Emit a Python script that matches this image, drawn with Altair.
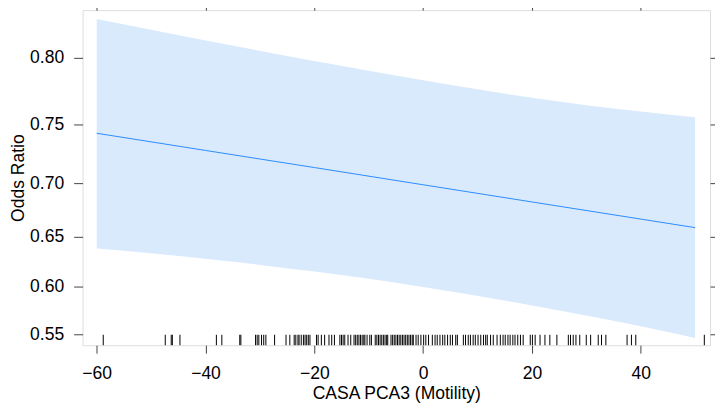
import altair as alt
import numpy as np
import pandas as pd

# Effect curve (probability scale)
fit_x = [-60, -40, -20, 0, 20, 40, 50]
fit_p = [0.7430, 0.7287, 0.7140, 0.6987, 0.6830, 0.6669, 0.6587]
lower_p = [0.6383, 0.6282, 0.6152, 0.5995, 0.5804, 0.5585, 0.5461]
upper_p = [0.8250, 0.8114, 0.7976, 0.7839, 0.7710, 0.7603, 0.7558]

# Rug of observed x values
rug_x = [-58.8, -47.4, -46.3, -46.1, -44.7, -38.0, -37.0, -33.7, -33.5, -30.8, -30.5,
         -30.2, -29.7, -29.3, -28.9, -27.3, -25.2, -24.5, -23.7, -23.4, -23.0, -22.8,
         -22.4, -22.0, -21.7, -21.4, -21.1, -20.8, -19.6, -19.3, -18.7, -18.1, -17.3,
         -16.8, -16.3, -15.3, -15.0, -14.7, -14.4, -13.8, -13.3, -12.7, -12.4, -12.1,
         -11.8, -11.5, -11.2, -10.9, -10.7, -10.3, -9.8, -9.5, -8.8, -8.5, -8.2, -7.9,
         -7.6, -7.3, -7.0, -6.7, -6.5, -5.9, -5.6, -5.3, -5.0, -4.7, -4.4, -4.1, -3.8,
         -3.5, -3.2, -2.9, -2.6, -2.3, -2.0, -1.8, -1.3, -0.9, -0.4, 0.1, 0.5, 1.0, 1.7,
         2.2, 2.6, 3.1, 3.6, 4.0, 4.5, 5.0, 5.4, 6.0, 6.3, 7.4, 7.8, 8.3, 8.7, 9.2, 9.6,
         10.1, 10.6, 11.1, 11.5, 11.8, 12.4, 12.9, 13.6, 14.2, 14.7, 15.1, 15.6, 16.0,
         16.5, 16.9, 17.4, 17.9, 18.4, 19.7, 20.1, 20.6, 21.5, 22.4, 23.3, 24.6, 26.7,
         27.1, 27.6, 28.1, 28.8, 30.0, 30.8, 32.2, 32.8, 33.6, 37.5, 38.3, 39.1, 51.7]

x_ticks = [-60, -40, -20, 0, 20, 40]
y_tick_p = [0.55, 0.60, 0.65, 0.70, 0.75, 0.80]


def logit(p):
    p = np.asarray(p, dtype=float)
    return np.log(p / (1 - p))


curve = pd.DataFrame({
    "x": fit_x,
    "fit": logit(fit_p),
    "lo": logit(lower_p),
    "hi": logit(upper_p),
})
rug = pd.DataFrame({"x": rug_x})

FONT = "Liberation Sans"
FS = 17.6
FRAME = "#444444"

xscale = alt.Scale(domain=[-62.6, 52.75], nice=False, zero=False)
yscale = alt.Scale(domain=[0.154, 1.589], nice=False, zero=False)
yvals = [float(v) for v in logit(y_tick_p)]
ylabel_expr = "format(1/(1+exp(-datum.value)), '.2f')"

axis_common = dict(domain=False, grid=False, tickColor=FRAME, tickWidth=1,
                   labelFont=FONT, labelFontSize=FS, labelColor="black",
                   titleFont=FONT, titleFontSize=FS, titleFontWeight="normal",
                   titleColor="black")

x_bottom = alt.Axis(values=x_ticks, tickSize=8, labelPadding=11, titlePadding=3,
                    title="CASA PCA3 (Motility)", format="d", labelFlush=False,
                    **axis_common)
y_left = alt.Axis(values=yvals, tickSize=9, labelPadding=10, titlePadding=2,
                  title="Odds Ratio", labelExpr=ylabel_expr, **axis_common)
x_top = alt.Axis(orient="top", values=x_ticks, tickSize=9, labels=False, title=None,
                 domain=False, grid=False, tickColor=FRAME)
y_right = alt.Axis(orient="right", values=yvals, tickSize=9, labels=False, title=None,
                   domain=False, grid=False, tickColor=FRAME)

band = alt.Chart(curve).mark_area(color="#d9eafd", opacity=1, interpolate="monotone").encode(
    x=alt.X("x:Q", scale=xscale, axis=x_bottom),
    y=alt.Y("lo:Q", scale=yscale, axis=y_left),
    y2="hi:Q",
)

line = alt.Chart(curve).mark_line(color="#2a8cff", strokeWidth=1).encode(
    x=alt.X("x:Q", scale=xscale, axis=None),
    y=alt.Y("fit:Q", scale=yscale, axis=None),
)

frame_axes = alt.Chart(curve).mark_line(opacity=0).encode(
    x=alt.X("x:Q", scale=xscale, axis=x_top),
    y=alt.Y("fit:Q", scale=yscale, axis=y_right),
)

rugs = alt.Chart(rug).mark_rule(color="black", strokeWidth=1).encode(
    x=alt.X("x:Q", scale=xscale, axis=None),
    y=alt.value(337),
    y2=alt.value(326.5),
)

chart = alt.layer(band, line, rugs, frame_axes).resolve_axis(
    x="independent", y="independent"
).properties(
    width=631, height=337,
    autosize=alt.AutoSizeParams(type="none"),
    padding={"left": 75, "top": 1, "right": 5, "bottom": 60},
).configure_view(
    stroke=FRAME, strokeWidth=1
).configure(background="white")

chart.save("out.html", embed_options={"renderer": "svg", "actions": False})
